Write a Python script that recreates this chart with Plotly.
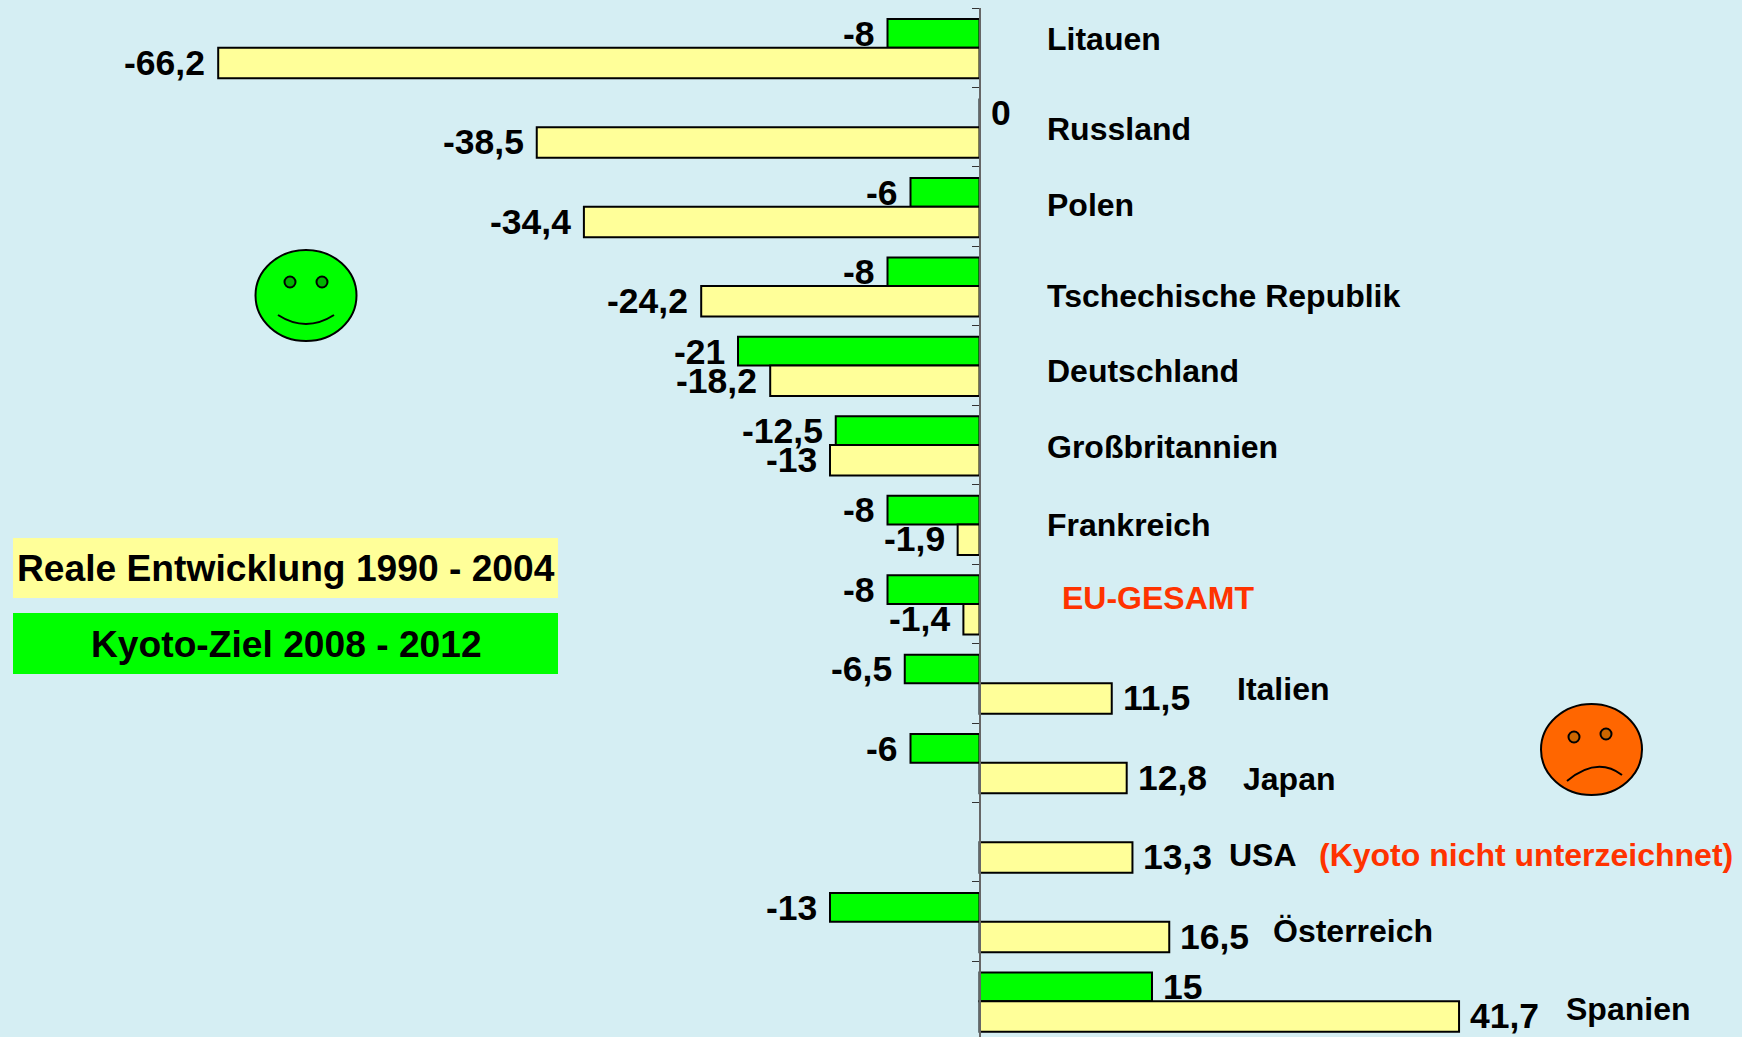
import plotly.graph_objects as go

countries = ["Litauen", "Russland", "Polen", "Tschechische Republik", "Deutschland",
             "Großbritannien", "Frankreich", "EU-GESAMT", "Italien", "Japan", "USA",
             "Österreich", "Spanien"]
kyoto_ziel = [-8, 0, -6, -8, -21, -12.5, -8, -8, -6.5, -6, None, -13, 15]
reale_entwicklung = [-66.2, -38.5, -34.4, -24.2, -18.2, -13, -1.9, -1.4, 11.5, 12.8, 13.3, 16.5, 41.7]
legend_real = "Reale Entwicklung 1990 - 2004"
legend_kyoto = "Kyoto-Ziel 2008 - 2012"
usa_note = "(Kyoto nicht unterzeichnet)"

W, H = 1742, 1037
BG, YELLOW, GREEN, RED = "#D5EEF3", "#FFFF99", "#00FF00", "#FF3300"
FONT = "Liberation Sans, Arial, sans-serif"
PX_PER_UNIT = 11.5
ZERO_PX = 979.5
AXIS_PX = 980
TOP_PX = 8
CAT_PX = 79.45


def px(x):
    return x / W


def py(y):
    return 1 - y / H


def fmt(v):
    return f"{v:g}".replace(".", ",")


fig = go.Figure()
fig.add_trace(go.Bar(name=legend_kyoto, y=countries, x=kyoto_ziel, orientation="h",
                     width=0.361, offset=-0.361,
                     marker=dict(color=GREEN, line=dict(color="black", width=2))))
fig.add_trace(go.Bar(name=legend_real, y=countries, x=reale_entwicklung, orientation="h",
                     width=0.384, offset=0,
                     marker=dict(color=YELLOW, line=dict(color="black", width=2))))

annotations = []
for series, yshift in ((kyoto_ziel, 14), (reale_entwicklung, -15)):
    for name, v in zip(countries, series):
        if v is None:
            continue
        annotations.append(dict(
            x=v, y=name, xref="x", yref="y", text=f"<b>{fmt(v)}</b>", showarrow=False,
            xanchor="left" if v >= 0 else "right", xshift=9 if v >= 0 else -11,
            yshift=yshift, font=dict(family=FONT, size=35.5, color="black")))

name_pos = {
    "Litauen": (1045, 39), "Russland": (1045, 129), "Polen": (1045, 205),
    "Tschechische Republik": (1045, 296), "Deutschland": (1045, 371),
    "Großbritannien": (1045, 447), "Frankreich": (1045, 525), "EU-GESAMT": (1060, 598),
    "Italien": (1235, 689), "Japan": (1241, 779), "USA": (1227, 855),
    "Österreich": (1271, 931), "Spanien": (1564, 1009),
}
for name in countries:
    x, y = name_pos[name]
    annotations.append(dict(
        x=px(x), y=py(y), xref="paper", yref="paper", text=f"<b>{name}</b>", showarrow=False,
        xanchor="left", yanchor="middle",
        font=dict(family=FONT, size=32, color=RED if name == "EU-GESAMT" else "black")))
annotations.append(dict(x=px(1317), y=py(855), xref="paper", yref="paper", text=f"<b>{usa_note}</b>",
                        showarrow=False, xanchor="left", yanchor="middle",
                        font=dict(family=FONT, size=32, color=RED)))
for text, x, y in ((legend_real, 285.5, 568), (legend_kyoto, 286.5, 644)):
    annotations.append(dict(x=px(x), y=py(y), xref="paper", yref="paper", text=f"<b>{text}</b>",
                            showarrow=False, xanchor="center", yanchor="middle",
                            font=dict(family=FONT, size=37.2, color="black")))


def rect(x0, y0, x1, y1, fill):
    return dict(type="rect", xref="paper", yref="paper", x0=px(x0), x1=px(x1), y0=py(y0), y1=py(y1),
                fillcolor=fill, line=dict(width=0), layer="below")


def ellipse(x0, y0, x1, y1, fill, w=2):
    return dict(type="circle", xref="paper", yref="paper", x0=px(x0), x1=px(x1), y0=py(y0), y1=py(y1),
                fillcolor=fill, line=dict(color="black", width=w))


def curve(p0, c, p1):
    return dict(type="path", xref="paper", yref="paper",
                path=f"M {px(p0[0])} {py(p0[1])} Q {px(c[0])} {py(c[1])} {px(p1[0])} {py(p1[1])}",
                line=dict(color="black", width=2))


shapes = [
    rect(13, 538, 558, 598, YELLOW),
    rect(13, 613, 558, 674, GREEN),
    ellipse(255.5, 250, 356.5, 341, GREEN),
    ellipse(284.5, 276.5, 295.5, 287.5, "#00B400"),
    ellipse(316.5, 276.5, 327.5, 287.5, "#00B400"),
    curve((278, 315), (306, 333), (334, 315)),
    ellipse(1541, 704, 1642, 795, "#FF6600"),
    ellipse(1568.5, 731.5, 1579.5, 742.5, "#CC6600"),
    ellipse(1600.5, 728.5, 1611.5, 739.5, "#CC6600"),
    curve((1567, 781), (1597, 756), (1622, 775)),
]

fig.update_layout(
    width=W, height=H, autosize=False,
    margin=dict(l=0, r=0, t=0, b=0, pad=0),
    paper_bgcolor=BG, plot_bgcolor="rgba(0,0,0,0)",
    barmode="overlay",
    showlegend=False,
    xaxis=dict(visible=False,
               range=[-ZERO_PX / PX_PER_UNIT, (W - ZERO_PX) / PX_PER_UNIT]),
    yaxis=dict(type="category", categoryorder="array", categoryarray=countries,
               domain=[0, py(TOP_PX)],
               range=[(H - TOP_PX) / CAT_PX - 0.5, -0.5],
               anchor="free", position=px(AXIS_PX), side="left",
               showticklabels=False, showgrid=False, zeroline=False,
               showline=True, linecolor="#666666", linewidth=1.5,
               ticks="outside", ticklen=7, tickwidth=1, tickcolor="#333333",
               tickson="boundaries"),
    annotations=annotations, shapes=shapes,
)

fig.write_html("out.html", config=dict(displayModeBar=False),
               post_script="document.body.style.margin='0';document.body.style.overflow='hidden';")
